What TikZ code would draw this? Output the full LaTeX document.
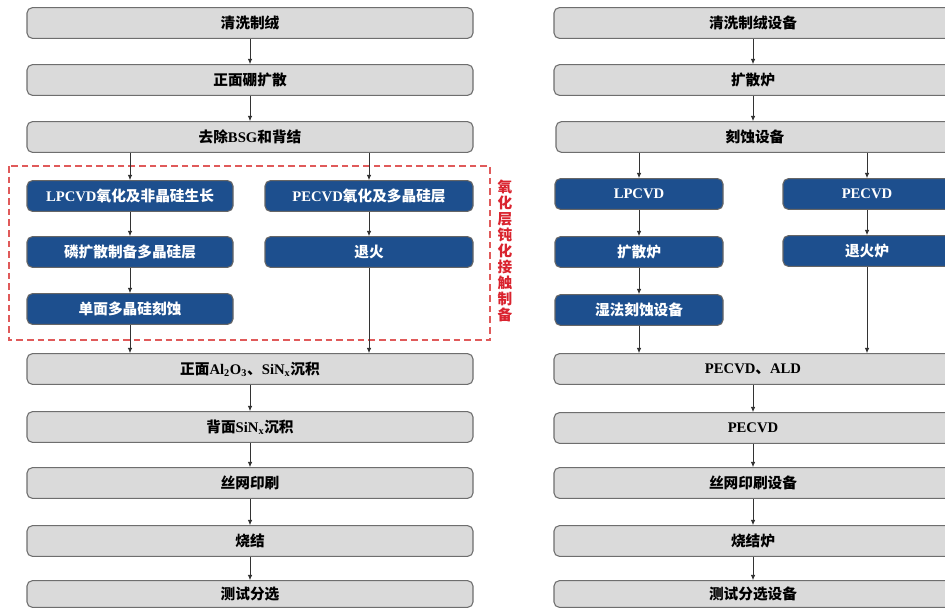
\documentclass[tikz,border=0pt]{standalone}
\usepackage{fontspec}
\setmainfont{Liberation Serif}
\newfontfamily\cjk{Noto Sans CJK SC}
\usetikzlibrary{arrows.meta}
\definecolor{navy}{HTML}{1D4F8E}
\definecolor{boxgray}{HTML}{DADADA}
\definecolor{edgegray}{HTML}{6E6E6E}
\definecolor{redlbl}{HTML}{D9232E}
\definecolor{reddash}{HTML}{E05A5A}
\tikzset{
  gbox/.style={draw=edgegray, fill=boxgray, rounded corners=4pt, line width=0.8pt,
    minimum height=23pt, inner sep=0pt, text=black, font=\bfseries\fontsize{11}{12}\selectfont},
  bbox/.style={draw=black!60, fill=navy, rounded corners=4pt, line width=0.8pt,
    minimum height=23pt, inner sep=0pt, text=white, font=\bfseries\fontsize{11}{12}\selectfont},
  arr/.style={-{Latex[length=4pt,width=3.5pt]}, line width=0.6pt, black!80},
  lw/.style={minimum width=334.5pt},
  rw/.style={minimum width=298.5pt},
  blw/.style={minimum width=154.5pt},
  brw/.style={minimum width=156pt},
  bsw/.style={minimum width=126pt}
}
\begin{document}
\begin{tikzpicture}[x=0.75pt,y=-0.75pt]
\useasboundingbox (0,0) rectangle (945,610);
\clip (0,0) rectangle (945,610);
% left column
\node[gbox,lw] (l1) at (250,23) {{\cjk 清洗制绒}};
\node[gbox,lw] (l2) at (250,80) {{\cjk 正面硼扩散}};
\node[gbox,lw] (l3) at (250,137) {{\cjk 去除}BSG{\cjk 和背结}};
\node[bbox,blw] (a1) at (130,196) {LPCVD{\cjk 氧化及非晶硅生长}};
\node[bbox,blw] (a2) at (130,252) {{\cjk 磷扩散制备多晶硅层}};
\node[bbox,blw] (a3) at (130,309) {{\cjk 单面多晶硅刻蚀}};
\node[bbox,brw] (b1) at (369,196) {PECVD{\cjk 氧化及多晶硅层}};
\node[bbox,brw] (b2) at (369,252) {{\cjk 退火}};
\node[gbox,lw] (l4) at (250,369) {{\cjk 正面}Al\textsubscript{2}O\textsubscript{3}{\cjk 、}SiN\textsubscript{x}{\cjk 沉积}};
\node[gbox,lw] (l5) at (250,427) {{\cjk 背面}SiN\textsubscript{x}{\cjk 沉积}};
\node[gbox,lw] (l6) at (250,483) {{\cjk 丝网印刷}};
\node[gbox,lw] (l7) at (250,541) {{\cjk 烧结}};
\node[gbox,lw,minimum height=20pt] (l8) at (250,594) {{\cjk 测试分选}};
\draw[reddash, line width=0.8pt, dash pattern=on 5pt off 3pt] (9,166) rectangle (490,340);
\node[text=redlbl, font=\cjk\bfseries\fontsize{11}{12}\selectfont, align=center, inner sep=0pt] (lbl) at (505,251)
  {氧\\化\\层\\钝\\化\\接\\触\\制\\备};
\draw[arr] (l1) -- (l2);
\draw[arr] (l2) -- (l3);
\draw[arr] (l3.south -| a1.north) -- (a1.north);
\draw[arr] (l3.south -| b1.north) -- (b1.north);
\draw[arr] (a1) -- (a2);
\draw[arr] (a2) -- (a3);
\draw[arr] (b1) -- (b2);
\draw[arr] (a3.south) -- (a3.south |- l4.north);
\draw[arr] (b2.south) -- (b2.south |- l4.north);
\draw[arr] (l4) -- (l5);
\draw[arr] (l5) -- (l6);
\draw[arr] (l6) -- (l7);
\draw[arr] (l7) -- (l8);
% right column
\node[gbox,rw] (r1) at (753,23) {{\cjk 清洗制绒设备}};
\node[gbox,rw] (r2) at (753,80) {{\cjk 扩散炉}};
\node[gbox,rw] (r3) at (755,137) {{\cjk 刻蚀设备}};
\node[bbox,bsw] (c1) at (639,194) {LPCVD};
\node[bbox,bsw] (c2) at (639,252) {{\cjk 扩散炉}};
\node[bbox,bsw] (c3) at (639,310) {{\cjk 湿法刻蚀设备}};
\node[bbox,bsw] (d1) at (867,194) {PECVD};
\node[bbox,bsw] (d2) at (867,251) {{\cjk 退火炉}};
\node[gbox,rw] (r4) at (753,369) {PECVD{\cjk 、}ALD};
\node[gbox,rw] (r5) at (753,428) {PECVD};
\node[gbox,rw] (r6) at (753,483) {{\cjk 丝网印刷设备}};
\node[gbox,rw] (r7) at (753,541) {{\cjk 烧结炉}};
\node[gbox,rw,minimum height=20pt] (r8) at (753,594) {{\cjk 测试分选设备}};
\draw[arr] (r1) -- (r2);
\draw[arr] (r2) -- (r2 |- r3.north);
\draw[arr] (r3.south -| c1.north) -- (c1.north);
\draw[arr] (r3.south -| d1.north) -- (d1.north);
\draw[arr] (c1) -- (c2);
\draw[arr] (c2) -- (c3);
\draw[arr] (d1) -- (d2);
\draw[arr] (c3.south) -- (c3.south |- r4.north);
\draw[arr] (d2.south) -- (d2.south |- r4.north);
\draw[arr] (r4) -- (r5);
\draw[arr] (r5) -- (r6);
\draw[arr] (r6) -- (r7);
\draw[arr] (r7) -- (r8);
\end{tikzpicture}
\end{document}
